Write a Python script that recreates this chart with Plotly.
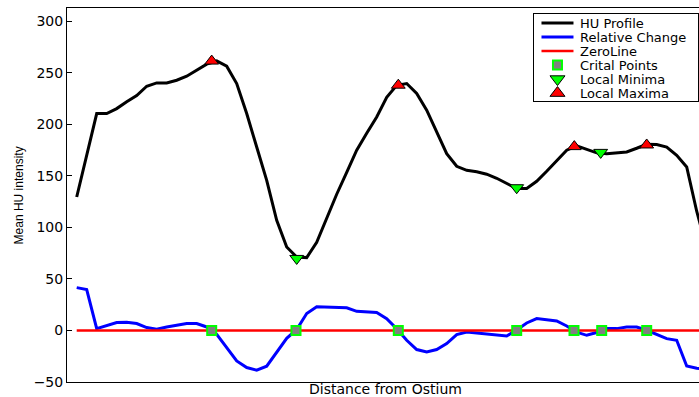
import plotly.graph_objects as go

# sample index along the centre line
distance = list(range(1, 65))

hu_profile = [129.5, 170, 210.5, 210.5, 215.3, 222, 228, 237, 240.2, 240.2,
              242.8, 246.7, 252.6, 258.4, 261.5, 256.4, 239.6, 210.5, 178, 145.7,
              106.9, 81, 71.3, 70.7, 85.6, 108.9, 132.2, 153.5, 174.9, 191.3,
              207.2, 226.3, 237.9, 239.6, 229.9, 213.7, 192.6, 171.6, 159.3, 155.4,
              154, 151.6, 147.7, 142.5, 137.7, 137.7, 144.8, 154.5, 164.7, 174.9,
              179.2, 175.5, 172.4, 171.6, 172.1, 173.2, 176.8, 180.7, 180.5, 178,
              170, 158.6, 115.7, 80]

relative_change = [41.6, 39.7, 1.8, 5.0, 7.7, 8.0, 6.7, 2.8, 1.2, 3.4,
                   4.8, 6.7, 6.7, 3.4, -3.7, -16.3, -29.6, -36, -38.6, -34.7,
                   -21.2, -7.6, 1.0, 16.4, 23, 22.8, 22.5, 22, 18.6, 17.7,
                   17.4, 11.5, 1.6, -9.5, -18.5, -20.9, -18.5, -12.7, -4, -1.5,
                   -2.4, -3.7, -4.7, -5.3, 0.5, 7.3, 11.5, 10.6, 9.2, 4.4,
                   -1.7, -4.7, -2, 1.8, 1.8, 3.4, 3.4, 0.2, -4, -7.9,
                   -9.5, -34.4, -36.7, -37.5]

zero_line = [0] * len(distance)

crit_x = [14.5, 22.93, 33.16, 45, 50.73, 53.5, 58]
crit_y = [0, 0, 0, 0, 0, 0, 0]

min_x = [23, 45, 53.4]
min_y = [69.9, 138.5, 172.8]

max_x = [14.5, 33.16, 50.76, 58]
max_y = [261.4, 238, 178.4, 180]

y_ticks = [-50, 0, 50, 100, 150, 200, 250, 300]

legend_labels = ["HU Profile", "Relative Change", "ZeroLine",
                 "Crital Points", "Local Minima", "Local Maxima"]

FONT = "DejaVu Sans"

# styles shared by the plot marks and the legend samples
styles = [
    dict(kind="line", line=dict(color="#000000", width=3)),
    dict(kind="line", line=dict(color="#0000ff", width=3)),
    dict(kind="line", line=dict(color="#ff0000", width=2.5)),
    dict(kind="marker", marker=dict(symbol="square", size=9, color="#808080",
                                    line=dict(color="#00ff00", width=2))),
    dict(kind="marker", marker=dict(symbol="triangle-down", size=12, color="#00ff00",
                                    line=dict(color="#000000", width=1))),
    dict(kind="marker", marker=dict(symbol="triangle-up", size=12, color="#ff0000",
                                    line=dict(color="#000000", width=1))),
]
series = [(distance, hu_profile), (distance, relative_change), (distance, zero_line),
          (crit_x, crit_y), (min_x, min_y), (max_x, max_y)]

fig = go.Figure()
for label, st, (xs, ys) in zip(legend_labels, styles, series):
    if st["kind"] == "line":
        fig.add_trace(go.Scatter(x=xs, y=ys, mode="lines", name=label,
                                 line=st["line"], showlegend=False))
    else:
        fig.add_trace(go.Scatter(x=xs, y=ys, mode="markers", name=label,
                                 marker=st["marker"], showlegend=False,
                                 cliponaxis=False))

# legend box drawn as a small inset subplot (units: pixels inside the box)
ROW0, ROWSTEP = 9, 14
SAMPLE_L, SAMPLE_R, TEXT_X = 7.5, 39.5, 44
annotations = []
for k, (label, st) in enumerate(zip(legend_labels, styles)):
    ry = ROW0 + ROWSTEP * k
    if st["kind"] == "line":
        fig.add_trace(go.Scatter(x=[SAMPLE_L, SAMPLE_R], y=[ry, ry], mode="lines",
                                 line=st["line"], xaxis="x2", yaxis="y2",
                                 showlegend=False, hoverinfo="skip"))
    else:
        m = dict(st["marker"])
        m["size"] = m["size"] + (1 if "triangle" in m["symbol"] else 0)
        fig.add_trace(go.Scatter(x=[(SAMPLE_L + SAMPLE_R) / 2], y=[ry], mode="markers",
                                 marker=m, xaxis="x2", yaxis="y2", cliponaxis=False,
                                 showlegend=False, hoverinfo="skip"))
    annotations.append(dict(text=label, xref="x2", yref="y2", x=TEXT_X, y=ry,
                            xanchor="left", yanchor="middle", showarrow=False,
                            font=dict(family=FONT, size=13)))

annotations += [
    dict(text="Distance from Ostium", xref="paper", yref="paper",
         x=0.5047, y=-0.019, xanchor="center", yanchor="middle",
         showarrow=False, font=dict(family=FONT, size=14)),
    dict(text="Mean HU intensity", xref="paper", yref="paper",
         x=-0.0759, y=0.499, xanchor="center", yanchor="middle",
         textangle=-90, showarrow=False,
         font=dict(family="Liberation Sans", size=12)),
]

fig.update_layout(
    width=699, height=397,
    margin=dict(l=67, r=0, t=8, b=15),
    paper_bgcolor="white", plot_bgcolor="rgba(0,0,0,0)",
    font=dict(family=FONT, size=13, color="black"),
    showlegend=False,
    xaxis=dict(range=[0.03, 63.23], showticklabels=False, ticks="",
               showgrid=False, zeroline=False, showline=True,
               linecolor="black", linewidth=1, mirror=True, automargin=False),
    yaxis=dict(range=[-50, 312.9], tickvals=y_ticks, ticks="inside", ticklen=5,
               tickcolor="black", showgrid=False, zeroline=False, showline=True,
               linecolor="black", linewidth=1, mirror=False,
               tickfont=dict(family=FONT, size=14), automargin=False),
    xaxis2=dict(domain=[0.7389, 0.9984], range=[0, 164], anchor="y2",
                showticklabels=False, ticks="", showgrid=False, zeroline=False,
                showline=True, linecolor="black", linewidth=1, mirror=True,
                fixedrange=True),
    yaxis2=dict(domain=[0.7511, 0.9839], range=[87, 0], anchor="x2",
                showticklabels=False, ticks="", showgrid=False, zeroline=False,
                showline=True, linecolor="black", linewidth=1, mirror=True,
                fixedrange=True),
    annotations=annotations,
)

fig.write_html("out.html")
